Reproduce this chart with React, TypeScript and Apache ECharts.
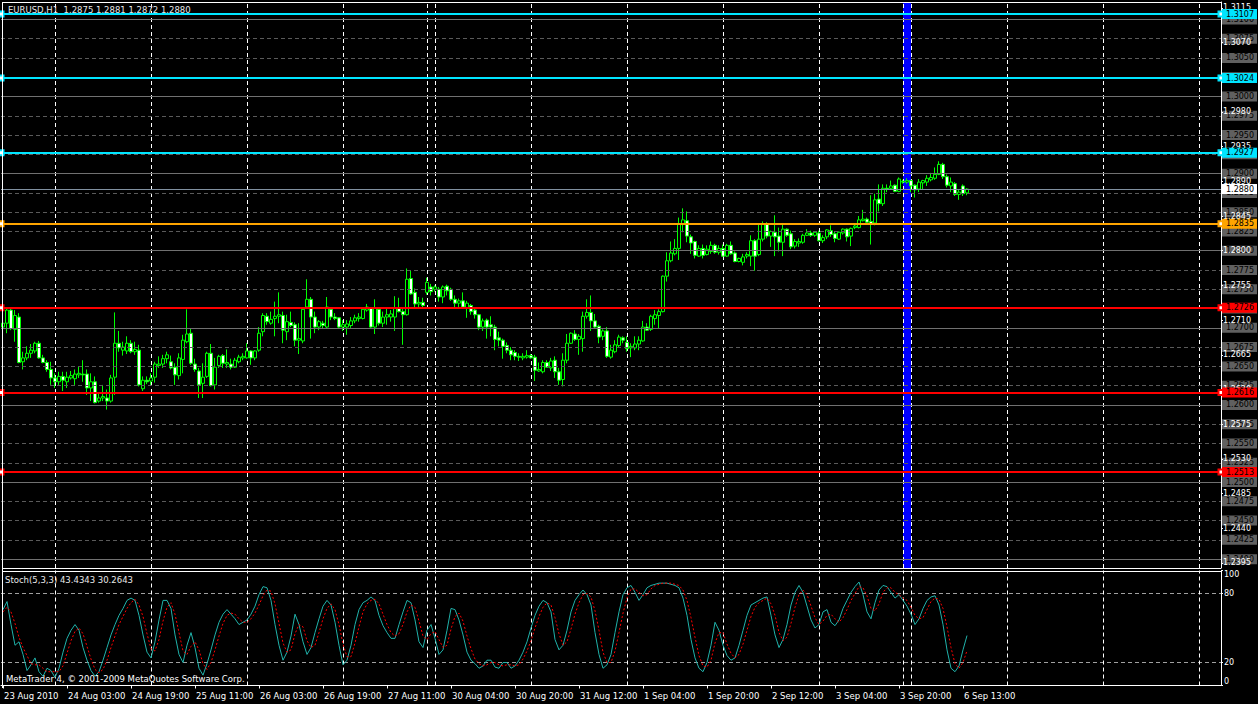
import React, { useEffect, useRef } from 'react';
import * as echarts from 'echarts';

// ---- Data (EURUSD H1 candles) ----
const OPEN = [
  1.2701, 1.2706, 1.2723, 1.2698, 1.2714, 1.2656, 1.2661, 1.2667, 1.2670, 1.2680,
  1.2661, 1.2655, 1.2646, 1.2635, 1.2630, 1.2637, 1.2630, 1.2635, 1.2634, 1.2639,
  1.2640, 1.2640, 1.2622, 1.2630, 1.2605, 1.2609, 1.2609, 1.2605, 1.2636, 1.2680,
  1.2671, 1.2670, 1.2680, 1.2669, 1.2671, 1.2621, 1.2632, 1.2631, 1.2636, 1.2651,
  1.2653, 1.2660, 1.2656, 1.2649, 1.2638, 1.2659, 1.2682, 1.2693, 1.2653, 1.2644,
  1.2628, 1.2637, 1.2667, 1.2626, 1.2651, 1.2664, 1.2653, 1.2653, 1.2649, 1.2656,
  1.2661, 1.2661, 1.2670, 1.2661, 1.2671, 1.2695, 1.2715, 1.2706, 1.2712, 1.2715,
  1.2716, 1.2695, 1.2707, 1.2704, 1.2684, 1.2683, 1.2727, 1.2737, 1.2714, 1.2701,
  1.2706, 1.2701, 1.2724, 1.2714, 1.2713, 1.2701, 1.2701, 1.2703, 1.2709, 1.2712,
  1.2712, 1.2723, 1.2725, 1.2701, 1.2724, 1.2706, 1.2714, 1.2714, 1.2714, 1.2725,
  1.2721, 1.2717, 1.2764, 1.2746, 1.2731, 1.2733, 1.2746, 1.2753, 1.2750, 1.2750,
  1.2740, 1.2754, 1.2750, 1.2737, 1.2732, 1.2735, 1.2726, 1.2729, 1.2723, 1.2717,
  1.2701, 1.2710, 1.2704, 1.2701, 1.2687, 1.2684, 1.2677, 1.2671, 1.2668, 1.2663,
  1.2661, 1.2662, 1.2664, 1.2662, 1.2644, 1.2643, 1.2655, 1.2648, 1.2658, 1.2643,
  1.2633, 1.2658, 1.2680, 1.2692, 1.2685, 1.2686, 1.2715, 1.2720, 1.2709, 1.2702,
  1.2689, 1.2696, 1.2662, 1.2669, 1.2677, 1.2687, 1.2681, 1.2674, 1.2674, 1.2679,
  1.2683, 1.2701, 1.2698, 1.2712, 1.2716, 1.2721, 1.2767, 1.2787, 1.2796, 1.2803,
  1.2835, 1.2839, 1.2818, 1.2812, 1.2793, 1.2803, 1.2795, 1.2799, 1.2807, 1.2798,
  1.2803, 1.2793, 1.2807, 1.2797, 1.2786, 1.2785, 1.2793, 1.2793, 1.2813, 1.2795,
  1.2815, 1.2834, 1.2819, 1.2824, 1.2819, 1.2811, 1.2828, 1.2822, 1.2806, 1.2810,
  1.2811, 1.2820, 1.2823, 1.2820, 1.2823, 1.2813, 1.2818, 1.2826, 1.2822, 1.2815,
  1.2823, 1.2828, 1.2819, 1.2830, 1.2830, 1.2839, 1.2841, 1.2838, 1.2836, 1.2867,
  1.2861, 1.2881, 1.2881, 1.2885, 1.2877, 1.2889, 1.2889, 1.2891, 1.2885, 1.2880,
  1.2888, 1.2889, 1.2892, 1.2894, 1.2899, 1.2912, 1.2896, 1.2884, 1.2887, 1.2873,
  1.2884, 1.2875,
];
const HIGH = [
  1.2714, 1.2725, 1.2725, 1.2723, 1.2719, 1.2669, 1.2676, 1.2679, 1.2682, 1.2683,
  1.2665, 1.2658, 1.2656, 1.2641, 1.2643, 1.2643, 1.2643, 1.2644, 1.2646, 1.2650,
  1.2658, 1.2646, 1.2641, 1.2637, 1.2615, 1.2626, 1.2620, 1.2639, 1.2720, 1.2696,
  1.2682, 1.2689, 1.2684, 1.2682, 1.2678, 1.2637, 1.2637, 1.2641, 1.2656, 1.2663,
  1.2665, 1.2669, 1.2664, 1.2654, 1.2667, 1.2691, 1.2724, 1.2699, 1.2660, 1.2648,
  1.2654, 1.2669, 1.2679, 1.2661, 1.2665, 1.2666, 1.2672, 1.2660, 1.2661, 1.2665,
  1.2667, 1.2680, 1.2671, 1.2671, 1.2701, 1.2719, 1.2719, 1.2721, 1.2734, 1.2746,
  1.2721, 1.2717, 1.2721, 1.2707, 1.2706, 1.2727, 1.2763, 1.2740, 1.2721, 1.2710,
  1.2709, 1.2740, 1.2727, 1.2719, 1.2714, 1.2710, 1.2710, 1.2714, 1.2717, 1.2719,
  1.2726, 1.2731, 1.2727, 1.2737, 1.2727, 1.2721, 1.2727, 1.2723, 1.2741, 1.2739,
  1.2727, 1.2777, 1.2774, 1.2751, 1.2740, 1.2739, 1.2765, 1.2757, 1.2755, 1.2753,
  1.2755, 1.2756, 1.2752, 1.2742, 1.2738, 1.2746, 1.2735, 1.2731, 1.2727, 1.2718,
  1.2712, 1.2712, 1.2715, 1.2704, 1.2695, 1.2686, 1.2681, 1.2675, 1.2671, 1.2667,
  1.2667, 1.2671, 1.2666, 1.2665, 1.2655, 1.2658, 1.2658, 1.2661, 1.2663, 1.2648,
  1.2667, 1.2692, 1.2694, 1.2697, 1.2692, 1.2721, 1.2737, 1.2742, 1.2718, 1.2704,
  1.2698, 1.2701, 1.2678, 1.2684, 1.2691, 1.2689, 1.2689, 1.2680, 1.2689, 1.2689,
  1.2709, 1.2706, 1.2717, 1.2723, 1.2724, 1.2768, 1.2798, 1.2812, 1.2815, 1.2843,
  1.2855, 1.2851, 1.2821, 1.2813, 1.2807, 1.2808, 1.2807, 1.2812, 1.2809, 1.2807,
  1.2808, 1.2809, 1.2812, 1.2799, 1.2791, 1.2796, 1.2798, 1.2820, 1.2815, 1.2834,
  1.2838, 1.2837, 1.2826, 1.2846, 1.2830, 1.2836, 1.2829, 1.2826, 1.2815, 1.2816,
  1.2822, 1.2828, 1.2826, 1.2825, 1.2826, 1.2820, 1.2828, 1.2833, 1.2825, 1.2825,
  1.2829, 1.2829, 1.2830, 1.2835, 1.2845, 1.2853, 1.2843, 1.2872, 1.2874, 1.2886,
  1.2886, 1.2886, 1.2891, 1.2886, 1.2895, 1.2892, 1.2894, 1.2892, 1.2886, 1.2893,
  1.2892, 1.2898, 1.2901, 1.2908, 1.2916, 1.2914, 1.2899, 1.2895, 1.2889, 1.2880,
  1.2886, 1.2881,
];
const LOW = [
  1.2693, 1.2693, 1.2697, 1.2682, 1.2654, 1.2646, 1.2658, 1.2661, 1.2667, 1.2660,
  1.2654, 1.2643, 1.2626, 1.2622, 1.2626, 1.2618, 1.2622, 1.2633, 1.2626, 1.2635,
  1.2630, 1.2613, 1.2605, 1.2602, 1.2603, 1.2605, 1.2594, 1.2603, 1.2613, 1.2669,
  1.2664, 1.2666, 1.2667, 1.2665, 1.2624, 1.2618, 1.2627, 1.2626, 1.2629, 1.2648,
  1.2648, 1.2654, 1.2646, 1.2626, 1.2633, 1.2641, 1.2680, 1.2652, 1.2643, 1.2609,
  1.2609, 1.2635, 1.2624, 1.2620, 1.2648, 1.2648, 1.2648, 1.2646, 1.2648, 1.2654,
  1.2658, 1.2660, 1.2652, 1.2658, 1.2669, 1.2689, 1.2704, 1.2704, 1.2689, 1.2706,
  1.2680, 1.2684, 1.2701, 1.2676, 1.2666, 1.2680, 1.2725, 1.2686, 1.2693, 1.2697,
  1.2699, 1.2699, 1.2710, 1.2710, 1.2699, 1.2696, 1.2691, 1.2700, 1.2706, 1.2708,
  1.2711, 1.2721, 1.2700, 1.2692, 1.2703, 1.2701, 1.2704, 1.2708, 1.2696, 1.2720,
  1.2678, 1.2716, 1.2743, 1.2727, 1.2727, 1.2727, 1.2743, 1.2742, 1.2747, 1.2734,
  1.2732, 1.2742, 1.2735, 1.2727, 1.2727, 1.2726, 1.2713, 1.2717, 1.2712, 1.2697,
  1.2696, 1.2686, 1.2689, 1.2671, 1.2676, 1.2660, 1.2667, 1.2658, 1.2658, 1.2657,
  1.2658, 1.2660, 1.2660, 1.2631, 1.2643, 1.2641, 1.2648, 1.2644, 1.2635, 1.2626,
  1.2624, 1.2654, 1.2679, 1.2683, 1.2665, 1.2669, 1.2712, 1.2696, 1.2699, 1.2680,
  1.2684, 1.2661, 1.2660, 1.2667, 1.2674, 1.2680, 1.2669, 1.2662, 1.2671, 1.2671,
  1.2682, 1.2696, 1.2696, 1.2704, 1.2699, 1.2720, 1.2760, 1.2785, 1.2794, 1.2788,
  1.2824, 1.2811, 1.2796, 1.2790, 1.2792, 1.2790, 1.2794, 1.2796, 1.2796, 1.2795,
  1.2792, 1.2792, 1.2795, 1.2785, 1.2785, 1.2781, 1.2790, 1.2780, 1.2774, 1.2793,
  1.2812, 1.2816, 1.2805, 1.2793, 1.2799, 1.2793, 1.2818, 1.2802, 1.2803, 1.2805,
  1.2809, 1.2819, 1.2818, 1.2818, 1.2812, 1.2810, 1.2815, 1.2818, 1.2811, 1.2814,
  1.2821, 1.2812, 1.2806, 1.2828, 1.2829, 1.2838, 1.2835, 1.2808, 1.2833, 1.2851,
  1.2858, 1.2876, 1.2880, 1.2876, 1.2876, 1.2887, 1.2887, 1.2876, 1.2869, 1.2876,
  1.2880, 1.2884, 1.2890, 1.2892, 1.2898, 1.2893, 1.2882, 1.2876, 1.2871, 1.2866,
  1.2871, 1.2872,
];
const CLOSE = [
  1.2706, 1.2723, 1.2699, 1.2716, 1.2655, 1.2661, 1.2667, 1.2671, 1.2680, 1.2661,
  1.2655, 1.2646, 1.2635, 1.2630, 1.2637, 1.2632, 1.2636, 1.2638, 1.2640, 1.2641,
  1.2639, 1.2622, 1.2630, 1.2603, 1.2609, 1.2611, 1.2605, 1.2635, 1.2680, 1.2674,
  1.2675, 1.2680, 1.2669, 1.2672, 1.2626, 1.2632, 1.2630, 1.2635, 1.2653, 1.2653,
  1.2660, 1.2665, 1.2648, 1.2639, 1.2661, 1.2684, 1.2692, 1.2654, 1.2646, 1.2626,
  1.2636, 1.2667, 1.2625, 1.2649, 1.2663, 1.2654, 1.2655, 1.2649, 1.2658, 1.2662,
  1.2663, 1.2670, 1.2661, 1.2670, 1.2693, 1.2716, 1.2708, 1.2711, 1.2715, 1.2717,
  1.2697, 1.2708, 1.2703, 1.2684, 1.2686, 1.2724, 1.2737, 1.2714, 1.2701, 1.2708,
  1.2703, 1.2727, 1.2714, 1.2712, 1.2701, 1.2704, 1.2705, 1.2709, 1.2713, 1.2714,
  1.2724, 1.2727, 1.2701, 1.2726, 1.2706, 1.2714, 1.2717, 1.2718, 1.2725, 1.2721,
  1.2717, 1.2763, 1.2744, 1.2731, 1.2733, 1.2729, 1.2759, 1.2747, 1.2753, 1.2740,
  1.2753, 1.2748, 1.2737, 1.2732, 1.2735, 1.2727, 1.2732, 1.2721, 1.2717, 1.2701,
  1.2709, 1.2701, 1.2701, 1.2685, 1.2684, 1.2676, 1.2671, 1.2665, 1.2663, 1.2662,
  1.2663, 1.2664, 1.2661, 1.2645, 1.2646, 1.2655, 1.2649, 1.2657, 1.2643, 1.2632,
  1.2658, 1.2680, 1.2693, 1.2685, 1.2689, 1.2715, 1.2720, 1.2709, 1.2701, 1.2688,
  1.2696, 1.2663, 1.2671, 1.2678, 1.2688, 1.2684, 1.2673, 1.2676, 1.2679, 1.2684,
  1.2701, 1.2697, 1.2715, 1.2717, 1.2721, 1.2767, 1.2787, 1.2797, 1.2803, 1.2835,
  1.2840, 1.2819, 1.2810, 1.2794, 1.2803, 1.2794, 1.2802, 1.2807, 1.2798, 1.2803,
  1.2793, 1.2807, 1.2796, 1.2786, 1.2790, 1.2792, 1.2795, 1.2813, 1.2793, 1.2815,
  1.2834, 1.2819, 1.2825, 1.2818, 1.2811, 1.2828, 1.2820, 1.2805, 1.2812, 1.2812,
  1.2820, 1.2823, 1.2820, 1.2824, 1.2813, 1.2817, 1.2827, 1.2821, 1.2816, 1.2824,
  1.2828, 1.2818, 1.2829, 1.2832, 1.2840, 1.2841, 1.2837, 1.2835, 1.2866, 1.2861,
  1.2881, 1.2880, 1.2884, 1.2877, 1.2893, 1.2890, 1.2891, 1.2884, 1.2879, 1.2889,
  1.2891, 1.2894, 1.2895, 1.2899, 1.2912, 1.2896, 1.2885, 1.2889, 1.2873, 1.2876,
  1.2874, 1.2880,
];

// Stochastic (5,3,3): %K main line and %D signal line
const STOCH_MAIN = [
  66, 73, 53, 35, 38, 27, 13, 18, 24, 12,
  8, 15, 13, 7, 15, 29, 41, 48, 53, 48,
  33, 22, 13, 8, 12, 22, 33, 44, 53, 61,
  67, 74, 76, 74, 61, 44, 29, 24, 38, 57,
  74, 74, 67, 44, 27, 20, 35, 46, 33, 15,
  9, 19, 31, 44, 55, 62, 66, 62, 58, 53,
  55, 57, 62, 69, 79, 86, 85, 74, 53, 35,
  22, 29, 43, 62, 53, 38, 27, 33, 46, 58,
  69, 74, 70, 55, 35, 18, 22, 35, 53, 66,
  72, 74, 77, 74, 61, 52, 46, 41, 41, 53,
  64, 74, 72, 57, 38, 33, 48, 53, 41, 27,
  31, 48, 67, 66, 57, 44, 29, 22, 19, 15,
  17, 22, 22, 16, 15, 20, 20, 15, 17, 22,
  29, 38, 50, 61, 69, 74, 72, 64, 40, 31,
  35, 48, 64, 74, 79, 83, 79, 70, 46, 27,
  15, 18, 27, 46, 64, 79, 85, 87, 81, 74,
  79, 85, 87, 88, 89, 89, 89, 88, 87, 85,
  76, 61, 40, 24, 15, 12, 20, 35, 55, 48,
  35, 26, 22, 24, 35, 48, 61, 70, 72, 74,
  76, 77, 61, 44, 33, 40, 53, 70, 81, 87,
  81, 69, 57, 50, 53, 64, 66, 55, 52, 57,
  67, 74, 81, 86, 90, 79, 64, 58, 72, 83,
  87, 86, 81, 76, 79, 74, 69, 62, 53, 58,
  67, 74, 77, 78, 70, 53, 31, 15, 12, 17,
  31, 43.4343,
];
const STOCH_SIGNAL = [
  64, 68, 64, 54, 42, 33, 26, 19, 18, 18,
  15, 12, 12, 12, 12, 17, 28, 39, 47, 50,
  45, 34, 23, 14, 11, 14, 22, 33, 43, 53,
  60, 67, 72, 75, 70, 60, 45, 32, 30, 40,
  56, 68, 72, 62, 46, 30, 27, 34, 38, 31,
  19, 14, 20, 31, 43, 54, 61, 63, 62, 58,
  55, 55, 58, 63, 70, 78, 83, 82, 71, 54,
  37, 29, 31, 45, 53, 51, 39, 33, 35, 46,
  58, 67, 71, 66, 53, 36, 25, 25, 37, 51,
  64, 71, 74, 75, 71, 62, 53, 46, 43, 45,
  53, 64, 70, 68, 56, 43, 40, 45, 47, 40,
  33, 35, 49, 60, 63, 56, 43, 32, 23, 19,
  17, 18, 20, 20, 18, 17, 18, 18, 17, 18,
  23, 30, 39, 50, 60, 68, 72, 70, 59, 45,
  35, 38, 49, 62, 72, 79, 80, 77, 65, 48,
  29, 20, 20, 30, 46, 63, 76, 84, 84, 81,
  78, 79, 84, 87, 88, 89, 89, 89, 88, 87,
  83, 74, 59, 42, 26, 17, 16, 22, 37, 46,
  46, 36, 28, 24, 27, 36, 48, 60, 68, 72,
  74, 76, 71, 61, 46, 39, 42, 54, 68, 79,
  83, 79, 69, 59, 53, 56, 61, 62, 58, 55,
  59, 66, 74, 80, 86, 85, 78, 67, 65, 71,
  81, 85, 85, 81, 79, 76, 74, 68, 61, 58,
  59, 66, 73, 76, 75, 67, 51, 33, 19, 15,
  20, 30.2643,
];

// Time axis: one label every 16 bars
const TIME_LABELS = [
  '23 Aug 2010', '24 Aug 03:00', '24 Aug 19:00', '25 Aug 11:00', '26 Aug 03:00',
  '26 Aug 19:00', '27 Aug 11:00', '30 Aug 04:00', '30 Aug 20:00', '31 Aug 12:00',
  '1 Sep 04:00', '1 Sep 20:00', '2 Sep 12:00', '3 Sep 04:00', '3 Sep 20:00', '6 Sep 13:00',
];
const LABEL_STEP = 16;
const SLOT_COUNT = 305; // bars that fit across the chart (incl. right shift)
const DAY_START_BARS = [13, 37, 61, 85, 106, 108, 132, 156, 180, 204, 225, 227, 251, 275, 299];
const WEEKEND_BAND = [225, 227];

// Price scale
const PRICE_MIN = 1.23885;
const PRICE_MAX = 1.31226;
const PRICE_TICKS = [
  1.2395, 1.244, 1.2485, 1.253, 1.2575, 1.262, 1.2665, 1.271, 1.2755,
  1.28, 1.2845, 1.289, 1.2935, 1.298, 1.3025, 1.307, 1.3115,
];
const LEVEL_LINES = [
  1.24, 1.2425, 1.245, 1.2475, 1.25, 1.2525, 1.255, 1.2575, 1.26, 1.2625,
  1.265, 1.2675, 1.27, 1.2725, 1.275, 1.2775, 1.28, 1.2825, 1.285, 1.2875,
  1.29, 1.2925, 1.295, 1.2975, 1.3, 1.3025, 1.305, 1.3075, 1.31,
];
const CYAN_LEVELS = [1.3107, 1.3024, 1.2927];
const ORANGE_LEVELS = [1.2835];
const RED_LEVELS = [1.2726, 1.2616, 1.2513];
const BID_PRICE = 1.288;
const STOCH_LEVELS = [20, 80];
const STOCH_TICKS = [0, 20, 80, 100];

const SYMBOL_TITLE = 'EURUSD,H1  1.2875 1.2881 1.2872 1.2880';
const STOCH_TITLE = 'Stoch(5,3,3) 43.4343 30.2643';
const COPYRIGHT = 'MetaTrader 4, \u00a9 2001-2009 MetaQuotes Software Corp.';

const FONT = '"DejaVu Sans", Tahoma, sans-serif';

export default function App() {
  const ref = useRef<HTMLDivElement>(null);

  useEffect(() => {
    if (!ref.current) return;
    const chart = echarts.init(ref.current, undefined, { renderer: 'svg' });

    const cats = Array.from({ length: SLOT_COUNT }, (_, i) => String(i));
    const candles = OPEN.map((o, i) => [o, CLOSE[i], LOW[i], HIGH[i]]);
    const isHundred = (v: number) => Math.round(v * 10000) % 100 === 0;
    const fmt4 = (p: any) => Number(p.value).toFixed(4);
    const showIdx = (i: number) => i % LABEL_STEP === 0 && i / LABEL_STEP < TIME_LABELS.length;

    const boxLabel = (bg: string, fg: string) => ({
      show: true,
      position: 'end',
      distance: 1,
      formatter: fmt4,
      backgroundColor: bg,
      color: fg,
      fontSize: 8,
      fontFamily: FONT,
      lineHeight: 9,
      padding: [1, 3, 0, 4],
    });

    const coloredLevels = (levels: number[], color: string) => ({
      type: 'line',
      xAxisIndex: 0,
      yAxisIndex: 0,
      data: [],
      silent: true,
      markLine: {
        silent: true,
        z: 6,
        precision: 4,
        symbol: ['emptyRect', 'emptyRect'],
        symbolSize: 5,
        lineStyle: { color, width: 2, type: 'solid' },
        label: boxLabel(color, '#000'),
        data: levels.map((v) => ({ yAxis: v })),
      },
    });

    const option: any = {
      animation: false,
      backgroundColor: '#000000',
      grid: [
        { left: 1, top: 2, width: 1220, height: 566 },
        { left: 1, top: 570.5, width: 1220, height: 115 },
      ],
      xAxis: [
        { type: 'category', gridIndex: 0, data: cats, show: false },
        {
          type: 'category',
          gridIndex: 1,
          data: cats,
          position: 'bottom',
          offset: 2.5,
          axisLine: { show: true, lineStyle: { color: '#ffffff', width: 1 } },
          axisTick: {
            show: true,
            alignWithLabel: true,
            length: 3,
            interval: showIdx,
            lineStyle: { color: '#ffffff' },
          },
          axisLabel: {
            interval: showIdx,
            formatter: (_v: string, i: number) => TIME_LABELS[i / LABEL_STEP] ?? '',
            color: '#ffffff',
            fontSize: 8.5,
            fontFamily: FONT,
            align: 'left',
            margin: 3,
            padding: [0, 0, 0, 1],
          },
          splitLine: { show: false },
        },
      ],
      yAxis: [
        {
          type: 'value',
          gridIndex: 0,
          position: 'right',
          min: PRICE_MIN,
          max: PRICE_MAX,
          z: 5,
          axisLine: { show: true, lineStyle: { color: '#ffffff', width: 1 } },
          axisTick: { show: true, customValues: PRICE_TICKS, length: 2, lineStyle: { color: '#ffffff' } },
          axisLabel: {
            customValues: PRICE_TICKS,
            color: '#ffffff',
            fontSize: 8,
            fontFamily: FONT,
            margin: 2,
            formatter: (v: number) => v.toFixed(4),
          },
          splitLine: { show: false },
        },
        {
          type: 'value',
          gridIndex: 1,
          position: 'right',
          min: 0,
          max: 100,
          axisLine: { show: true, lineStyle: { color: '#ffffff', width: 1 } },
          axisTick: { show: true, customValues: STOCH_TICKS, length: 2, lineStyle: { color: '#ffffff' } },
          axisLabel: {
            customValues: STOCH_TICKS,
            color: '#ffffff',
            fontSize: 8,
            fontFamily: FONT,
            margin: 3,
            verticalAlignMaxLabel: 'top',
            verticalAlignMinLabel: 'bottom',
          },
          splitLine: { show: false },
        },
      ],
      series: [
        {
          // weekend highlight band
          type: 'line',
          xAxisIndex: 0,
          yAxisIndex: 0,
          data: [],
          silent: true,
          markArea: {
            silent: true,
            z: 1,
            itemStyle: { color: '#0000ff', opacity: 1 },
            data: [[{ xAxis: WEEKEND_BAND[0] }, { xAxis: WEEKEND_BAND[1] }]],
          },
        },
        {
          // day separators (price panel)
          type: 'line',
          xAxisIndex: 0,
          yAxisIndex: 0,
          data: [],
          silent: true,
          markLine: {
            silent: true,
            z: 2,
            symbol: 'none',
            label: { show: false },
            lineStyle: { color: '#ffffff', width: 1, type: [4, 3] },
            data: DAY_START_BARS.map((b) => ({ xAxis: b })),
          },
        },
        {
          type: 'candlestick',
          xAxisIndex: 0,
          yAxisIndex: 0,
          z: 3,
          barWidth: 3,
          data: candles,
          itemStyle: {
            color: '#000000',
            color0: '#ffffff',
            borderColor: '#00ff00',
            borderColor0: '#00ff00',
            borderColorDoji: '#00ff00',
            borderWidth: 1,
          },
        },
        {
          // 25-pip horizontal levels with grey price boxes
          type: 'line',
          xAxisIndex: 0,
          yAxisIndex: 0,
          data: [],
          silent: true,
          markLine: {
            silent: true,
            z: 4,
            precision: 4,
            symbol: 'none',
            label: boxLabel('#606060', '#000000'),
            data: LEVEL_LINES.map((v) => ({
              yAxis: v,
              lineStyle: isHundred(v)
                ? { color: '#707070', width: 1, type: 'solid' }
                : { color: '#5a5a5a', width: 1, type: [4, 3] },
            })),
          },
        },
        coloredLevels(CYAN_LEVELS, '#00e5ff'),
        coloredLevels(ORANGE_LEVELS, '#ffa500'),
        coloredLevels(RED_LEVELS, '#ff0000'),
        {
          // current bid line
          type: 'line',
          xAxisIndex: 0,
          yAxisIndex: 0,
          data: [],
          silent: true,
          markLine: {
            silent: true,
            z: 7,
            precision: 4,
            symbol: 'none',
            lineStyle: { color: '#8090a0', width: 1, type: 'solid' },
            label: boxLabel('#ffffff', '#000000'),
            data: [{ yAxis: BID_PRICE }],
          },
        },
        {
          type: 'line',
          name: 'Stoch main',
          xAxisIndex: 1,
          yAxisIndex: 1,
          data: STOCH_MAIN,
          symbol: 'none',
          silent: true,
          z: 4,
          lineStyle: { color: '#20b2aa', width: 1 },
          markLine: {
            silent: true,
            z: 1,
            symbol: 'none',
            label: { show: false },
            data: [
              ...STOCH_LEVELS.map((v) => ({ yAxis: v, lineStyle: { color: '#a0a0a0', width: 1, type: [4, 3] } })),
              ...DAY_START_BARS.map((b) => ({ xAxis: b, lineStyle: { color: '#ffffff', width: 1, type: [4, 3] } })),
            ],
          },
        },
        {
          type: 'line',
          name: 'Stoch signal',
          xAxisIndex: 1,
          yAxisIndex: 1,
          data: STOCH_SIGNAL,
          symbol: 'none',
          silent: true,
          z: 5,
          lineStyle: { color: '#ff0000', width: 1, type: [2, 2] },
        },
      ],
      graphic: [
        { type: 'line', z: 50, shape: { x1: 2.5, y1: 2, x2: 2.5, y2: 688 }, style: { stroke: '#ffffff', lineWidth: 1 } },
        { type: 'line', z: 50, shape: { x1: 2, y1: 2.5, x2: 1221, y2: 2.5 }, style: { stroke: '#ffffff', lineWidth: 1 } },
        { type: 'line', z: 50, shape: { x1: 2, y1: 568.5, x2: 1221, y2: 568.5 }, style: { stroke: '#ffffff', lineWidth: 1 } },
        { type: 'line', z: 50, shape: { x1: 2, y1: 571.5, x2: 1221, y2: 571.5 }, style: { stroke: '#ffffff', lineWidth: 1 } },
        {
          type: 'text', z: 60, x: 8, y: 10,
          style: { text: SYMBOL_TITLE, fill: '#e8e8e8', font: `8.5px ${FONT}`, textVerticalAlign: 'middle' },
        },
        {
          type: 'text', z: 60, x: 5, y: 580,
          style: { text: STOCH_TITLE, fill: '#e8e8e8', font: `8.5px ${FONT}`, textVerticalAlign: 'middle' },
        },
        {
          type: 'text', z: 60, x: 6, y: 679,
          style: { text: COPYRIGHT, fill: '#ffffff', font: `8.5px ${FONT}`, textVerticalAlign: 'middle' },
        },
      ],
    };

    chart.setOption(option);
    return () => chart.dispose();
  }, []);

  return (
    <div
      ref={ref}
      style={{ position: 'fixed', left: 0, top: 0, width: 1258, height: 704, background: '#000' }}
    />
  );
}
